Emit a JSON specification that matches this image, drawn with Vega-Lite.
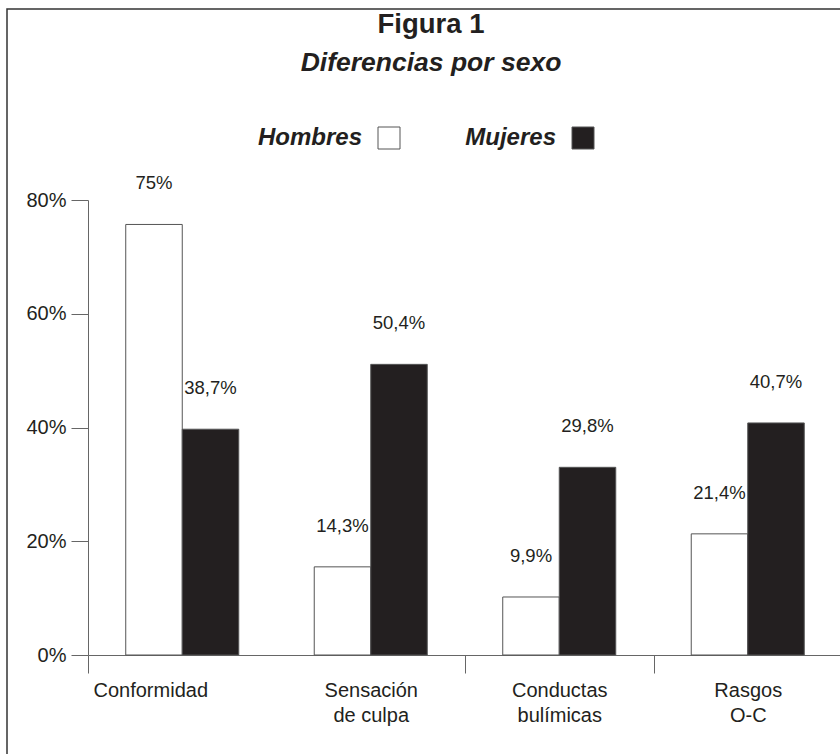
{
  "$schema": "https://vega.github.io/schema/vega-lite/v6.json",
  "width": 840,
  "height": 760,
  "autosize": {"type": "none"},
  "padding": {"left": 7, "top": 9, "right": 0, "bottom": 0},
  "config": {
    "font": "Liberation Sans",
    "view": {"stroke": "#333333", "strokeWidth": 1.5}
  },
  "title": {
    "text": "Figura 1",
    "subtitle": "Diferencias por sexo",
    "anchor": "middle",
    "frame": "group",
    "orient": "top",
    "offset": -67,
    "dx": 4,
    "font": "Liberation Sans",
    "fontSize": 27.5,
    "fontWeight": "bold",
    "color": "#231f20",
    "subtitleFont": "Liberation Sans",
    "subtitleFontSize": 26.5,
    "subtitleFontWeight": "bold",
    "subtitleFontStyle": "italic",
    "subtitleColor": "#231f20",
    "subtitlePadding": 11
  },
  "data": {
    "values": [
      {"cat": "Conformidad", "sexo": "Hombres", "valor": 75.7, "etiqueta": "75%"},
      {"cat": "Conformidad", "sexo": "Mujeres", "valor": 39.7, "etiqueta": "38,7%"},
      {"cat": "Sensación de culpa", "sexo": "Hombres", "valor": 15.5, "etiqueta": "14,3%"},
      {"cat": "Sensación de culpa", "sexo": "Mujeres", "valor": 51.1, "etiqueta": "50,4%"},
      {"cat": "Conductas bulímicas", "sexo": "Hombres", "valor": 10.2, "etiqueta": "9,9%"},
      {"cat": "Conductas bulímicas", "sexo": "Mujeres", "valor": 33.0, "etiqueta": "29,8%"},
      {"cat": "Rasgos O-C", "sexo": "Hombres", "valor": 21.3, "etiqueta": "21,4%"},
      {"cat": "Rasgos O-C", "sexo": "Mujeres", "valor": 40.8, "etiqueta": "40,7%"}
    ]
  },
  "encoding": {
    "x": {
      "field": "cat",
      "type": "nominal",
      "sort": null,
      "scale": {"range": [81, 835], "paddingInner": 0, "paddingOuter": 0},
      "axis": {
        "title": null,
        "orient": "bottom",
        "offset": -114,
        "labelAngle": 0,
        "tickBand": "extent",
        "tickSize": 18,
        "tickColor": "#666666",
        "tickOpacity": {"condition": {"test": "datum.value === 'Conformidad'", "value": 0}, "value": 1},
        "domainColor": "#666666",
        "labelFontSize": 20,
        "labelColor": "#231f20",
        "labelPadding": 7,
        "labelLineHeight": 25,
        "labelBaseline": "top",
        "labelOffset": {"condition": {"test": "datum.value === 'Conformidad'", "value": -32}, "value": 0},
        "labelExpr": "datum.label == 'Conformidad' ? datum.label : [slice(datum.label, 0, indexof(datum.label, ' ')), slice(datum.label, indexof(datum.label, ' ') + 1)]"
      }
    },
    "xOffset": {
      "field": "sexo",
      "type": "nominal",
      "sort": ["Hombres", "Mujeres"],
      "scale": {"paddingInner": 0, "paddingOuter": 0.668}
    },
    "y": {
      "field": "valor",
      "type": "quantitative",
      "scale": {"domain": [0, 80], "range": [646, 191], "nice": false, "zero": true},
      "axis": {
        "title": null,
        "offset": -81,
        "values": [0, 20, 40, 60, 80],
        "labelExpr": "datum.value + '%'",
        "grid": false,
        "tickSize": 17,
        "tickColor": "#666666",
        "domainColor": "#666666",
        "labelFontSize": 20,
        "labelColor": "#231f20",
        "labelPadding": 5
      }
    }
  },
  "layer": [
    {
      "mark": {"type": "bar", "stroke": "#555555", "strokeWidth": 1},
      "encoding": {
        "fill": {
          "field": "sexo",
          "type": "nominal",
          "scale": {"domain": ["Hombres", "Mujeres"], "range": ["#ffffff", "#231f20"]},
          "legend": {
            "orient": "none",
            "legendX": 370,
            "legendY": 117,
            "direction": "horizontal",
            "title": null,
            "symbolType": "square",
            "symbolSize": 484,
            "symbolStrokeColor": "#555555",
            "symbolStrokeWidth": 1,
            "symbolOpacity": 1,
            "labelFontSize": 24,
            "labelFontWeight": "bold",
            "labelFontStyle": "italic",
            "labelColor": "#231f20",
            "labelAlign": "right",
            "labelOffset": -39,
            "columnPadding": 63,
            "labelLimit": 300
          }
        }
      }
    },
    {
      "mark": {"type": "text", "dy": -35, "baseline": "alphabetic", "fontSize": 18.5, "color": "#231f20"},
      "encoding": {
        "text": {"field": "etiqueta", "type": "nominal"}
      }
    }
  ]
}
